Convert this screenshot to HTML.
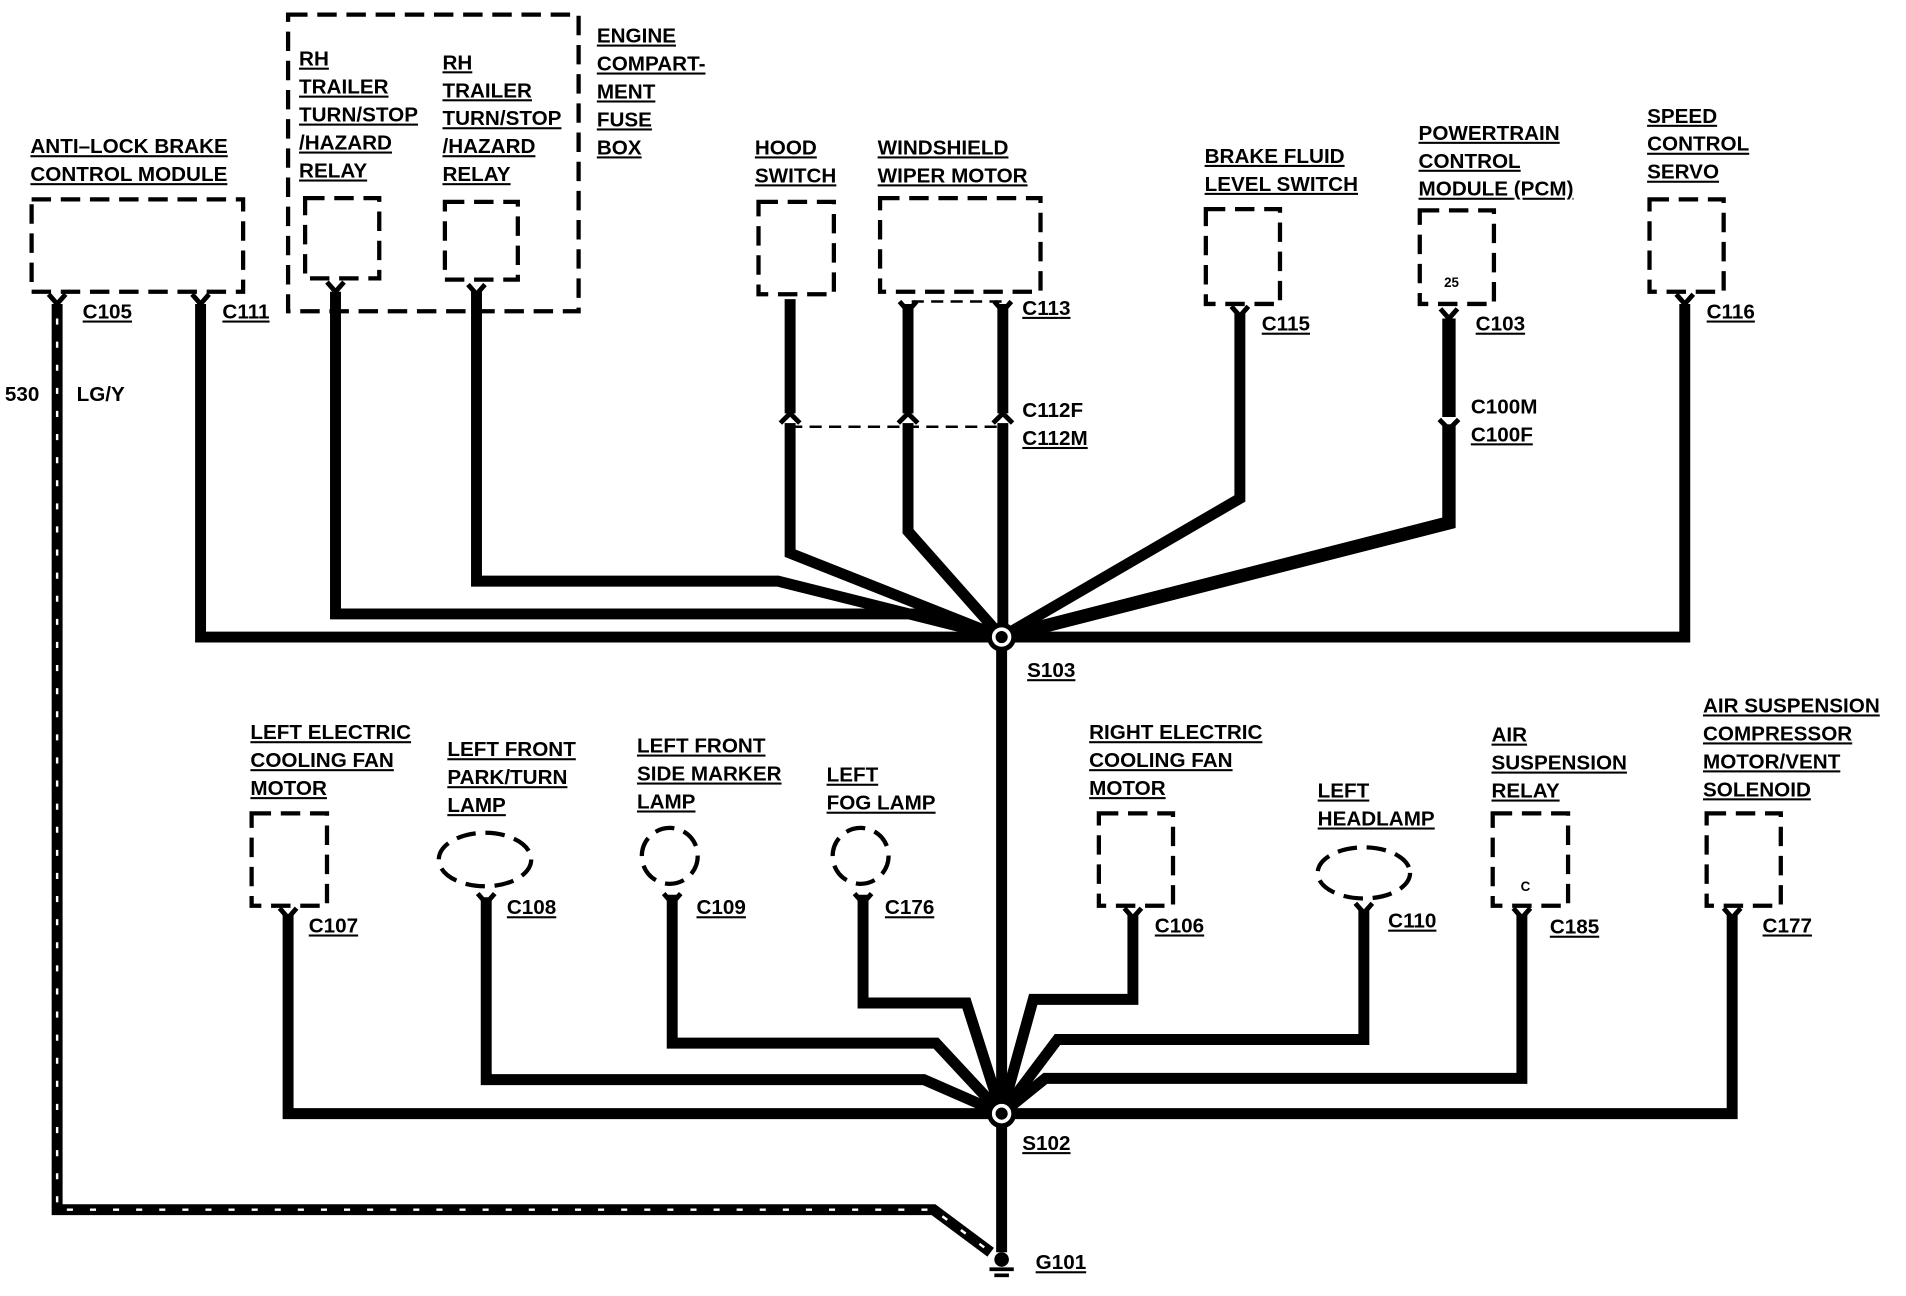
<!DOCTYPE html>
<html><head><meta charset="utf-8"><style>
html,body{margin:0;padding:0;background:#fff;}
svg{display:block;}
text{font-family:"Liberation Sans",sans-serif;font-weight:bold;font-size:17px;fill:#000;text-decoration:underline;}
.n{text-decoration:none;}
</style></head><body>
<svg width="1906" height="1296" viewBox="0 0 1568 1066" preserveAspectRatio="none" xmlns="http://www.w3.org/2000/svg">
<rect width="1568" height="1066" fill="#fff"/>
<g fill="none" stroke="#000" stroke-width="3.5" stroke-dasharray="16,8">
<rect x="26" y="164" width="174" height="76"/>
<rect x="237" y="12" width="239" height="244"/>
<rect x="251" y="163" width="61" height="66"/>
<rect x="366" y="166" width="60" height="64"/>
<rect x="624" y="166" width="62" height="76"/>
<rect x="724" y="163" width="132" height="77"/>
<rect x="992" y="172" width="61" height="78"/>
<rect x="1168" y="173" width="61" height="77"/>
<rect x="1357" y="164" width="61" height="76"/>
<rect x="207" y="669" width="62" height="76"/>
<rect x="904" y="669" width="61" height="76"/>
<rect x="1228" y="669" width="62" height="76"/>
<rect x="1404" y="669" width="61" height="76"/>
<ellipse cx="399" cy="707" rx="38" ry="22"/>
<circle cx="551" cy="704" r="23"/>
<circle cx="708" cy="704" r="23"/>
<ellipse cx="1122" cy="718" rx="38" ry="21"/>
</g>
<g fill="none" stroke="#000" stroke-width="2" stroke-dasharray="10,6">
<line x1="750" y1="248" x2="825" y2="248"/>
<line x1="650" y1="351" x2="825" y2="351"/>
</g>
<g fill="none" stroke="#000" stroke-width="9" stroke-linejoin="miter">
<polyline points="165,250 165,524 1386,524 1386,250"/>
<polyline points="276,240 276,505 760,505 824,524"/>
<polyline points="392,240 392,478 640,478 824,524"/>
<polyline points="650,246 650,455 824,524"/>
<polyline points="747,250 747,437 824,524"/>
<polyline points="825,250 825,524"/>
<polyline points="1020,258 1020,410 824,524"/>
<polyline points="1192,262 1192,430 824,524" stroke-width="11"/>
<line x1="824" y1="524" x2="824" y2="1030"/>
<polyline points="237,752 237,916 1425,916 1425,752"/>
<polyline points="400,738 400,888 760,888 824,916"/>
<polyline points="553,736 553,858 770,858 824,916"/>
<polyline points="710,736 710,825 795,825 824,916"/>
<polyline points="932,752 932,822 850,822 824,916"/>
<polyline points="1122,748 1122,855 870,855 824,916"/>
<polyline points="1252,752 1252,887 860,887 824,916"/>
<polyline points="47,250 47,995 768,995 815,1030"/>
</g>
<polyline points="47,262 47,995 768,995 815,1030" fill="none" stroke="#fff" stroke-width="2" stroke-dasharray="5,14"/>
<g fill="#fff" stroke="none">
<rect x="640" y="340" width="20" height="8"/><rect x="737" y="340" width="20" height="8"/><rect x="815" y="340" width="20" height="8"/>
<rect x="1182" y="343" width="20" height="6"/>
</g>
<g fill="none" stroke="#000" stroke-width="4">
<path d="M40,242 L47,250 L54,242"/><path d="M158,242 L165,250 L172,242"/>
<path d="M269,232 L276,240 L283,232"/><path d="M385,234 L392,242 L399,234"/>
<path d="M740,248 L747,256 L754,248"/><path d="M818,248 L825,256 L832,248"/>
<path d="M1013,252 L1020,260 L1027,252"/><path d="M1185,254 L1192,262 L1199,254"/>
<path d="M1379,242 L1386,250 L1393,242"/>
<path d="M642,348 L650,340 L658,348"/><path d="M739,348 L747,340 L755,348"/><path d="M817,348 L825,340 L833,348"/>
<path d="M1184,345 L1192,353 L1200,345"/>
<path d="M230,747 L237,755 L244,747"/><path d="M393,735 L400,743 L407,735"/>
<path d="M546,735 L553,743 L560,735"/><path d="M703,735 L710,743 L717,735"/>
<path d="M925,747 L932,755 L939,747"/><path d="M1115,743 L1122,751 L1129,743"/>
<path d="M1245,747 L1252,755 L1259,747"/><path d="M1418,747 L1425,755 L1432,747"/>
</g>
<circle cx="824" cy="524" r="10" fill="#fff" stroke="#000" stroke-width="4"/>
<circle cx="824" cy="916" r="10" fill="#fff" stroke="#000" stroke-width="4"/>
<circle cx="824" cy="524" r="5" fill="#000"/>
<circle cx="824" cy="916" r="5" fill="#000"/>
<circle cx="824" cy="1036" r="6" fill="#000"/>
<line x1="814" y1="1044" x2="834" y2="1044" stroke="#000" stroke-width="3"/>
<line x1="818" y1="1049" x2="830" y2="1049" stroke="#000" stroke-width="3"/>
<text x="25" y="126">ANTI–LOCK BRAKE</text><text x="25" y="149">CONTROL MODULE</text>
<text x="246" y="54">RH</text><text x="246" y="77">TRAILER</text><text x="246" y="100">TURN/STOP</text><text x="246" y="123">/HAZARD</text><text x="246" y="146">RELAY</text>
<text x="364" y="57">RH</text><text x="364" y="80">TRAILER</text><text x="364" y="103">TURN/STOP</text><text x="364" y="126">/HAZARD</text><text x="364" y="149">RELAY</text>
<text x="491" y="35">ENGINE</text><text x="491" y="58">COMPART-</text><text x="491" y="81">MENT</text><text x="491" y="104">FUSE</text><text x="491" y="127">BOX</text>
<text x="621" y="127">HOOD</text><text x="621" y="150">SWITCH</text>
<text x="722" y="127">WINDSHIELD</text><text x="722" y="150">WIPER MOTOR</text>
<text x="991" y="134">BRAKE FLUID</text><text x="991" y="157">LEVEL SWITCH</text>
<text x="1167" y="115">POWERTRAIN</text><text x="1167" y="138">CONTROL</text><text x="1167" y="161">MODULE <tspan class="n">(PCM)</tspan></text>
<text x="1355" y="101">SPEED</text><text x="1355" y="124">CONTROL</text><text x="1355" y="147">SERVO</text>
<text x="68" y="262">C105</text><text x="183" y="262">C111</text>
<text x="841" y="259">C113</text><text x="841" y="343" class="n">C112F</text><text x="841" y="366">C112M</text>
<text x="1038" y="272">C115</text><text x="1214" y="272">C103</text>
<text x="1210" y="340" class="n">C100M</text><text x="1210" y="363">C100F</text>
<text x="1404" y="262">C116</text>
<text x="4" y="330" class="n">530</text><text x="63" y="330" class="n">LG/Y</text>
<text x="1188" y="236" class="n" style="font-size:11px">25</text>
<text x="1251" y="733" class="n" style="font-size:11px">C</text>
<text x="845" y="557">S103</text><text x="841" y="946">S102</text><text x="852" y="1044">G101</text>
<text x="206" y="608">LEFT ELECTRIC</text><text x="206" y="631">COOLING FAN</text><text x="206" y="654">MOTOR</text>
<text x="368" y="622">LEFT FRONT</text><text x="368" y="645">PARK/TURN</text><text x="368" y="668">LAMP</text>
<text x="524" y="619">LEFT FRONT</text><text x="524" y="642">SIDE MARKER</text><text x="524" y="665">LAMP</text>
<text x="680" y="643">LEFT</text><text x="680" y="666">FOG LAMP</text>
<text x="896" y="608">RIGHT ELECTRIC</text><text x="896" y="631">COOLING FAN</text><text x="896" y="654">MOTOR</text>
<text x="1084" y="656">LEFT</text><text x="1084" y="679">HEADLAMP</text>
<text x="1227" y="610">AIR</text><text x="1227" y="633">SUSPENSION</text><text x="1227" y="656">RELAY</text>
<text x="1401" y="586">AIR SUSPENSION</text><text x="1401" y="609">COMPRESSOR</text><text x="1401" y="632">MOTOR/VENT</text><text x="1401" y="655">SOLENOID</text>
<text x="254" y="767">C107</text><text x="417" y="752">C108</text><text x="573" y="752">C109</text><text x="728" y="752">C176</text>
<text x="950" y="767">C106</text><text x="1142" y="763">C110</text><text x="1275" y="768">C185</text><text x="1450" y="767">C177</text>
</svg>
</body></html>
